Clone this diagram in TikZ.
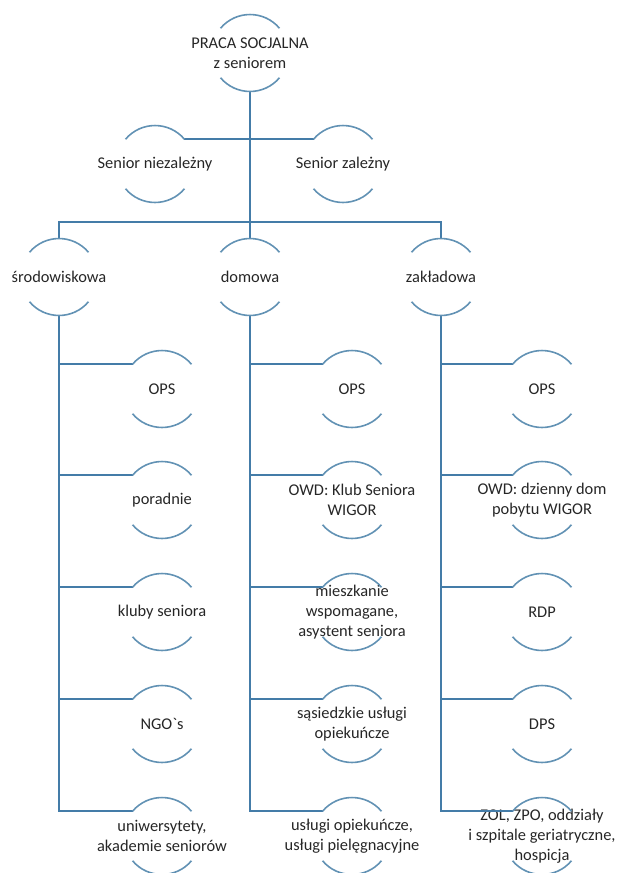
\documentclass[tikz,border=0pt]{standalone}
\usepackage{fontspec}
\setmainfont{Carlito}[Ligatures=TeXOff]

\definecolor{linkblue}{RGB}{68,124,168}
\definecolor{arcblue}{RGB}{98,146,180}
\definecolor{labelgray}{RGB}{38,38,38}

\tikzset{every picture/.style={line width=1.6pt}}
\tikzset{
  labeltext/.style={align=center, inner sep=0pt, text=labelgray, font=\fontsize{16.4}{20}\selectfont},
  arcshape/.style={circle, minimum size=77pt, inner sep=0pt, outer sep=0pt,
    label={[labeltext]center:{#1}}},
  link/.style={draw=linkblue, line width=1.6pt},
  arcline/.style={draw=arcblue, line width=1.6pt}
}
% upper and lower arc round a node (100 degrees each)
\newcommand{\arcsof}[1]{\draw[arcline] (#1.140) .. controls +(15.4,-18.3) and +(-15.4,-18.3) .. (#1.40)
  (#1.220) .. controls +(15.4,18.3) and +(-15.4,18.3) .. (#1.320);}

\begin{document}
\begin{tikzpicture}[x=1pt,y=1pt,yscale=-1,xscale=1]
\useasboundingbox (0,0) rectangle (621,873);

% Text Node
\node[arcshape={PRACA SOCJALNA\\z seniorem}] (praca) at (250,53) {};
% Text Node
\node[arcshape={Senior niezależny}] (niez) at (155,164) {};
% Text Node
\node[arcshape={Senior zależny}] (zal) at (343,164) {};
% Text Node
\node[arcshape={środowiskowa}] (srod) at (59,277) {};
% Text Node
\node[arcshape={domowa}] (dom) at (250,277) {};
% Text Node
\node[arcshape={zakładowa}] (zakl) at (441,277) {};

%środowiskowa column
\node[arcshape={OPS}] (opsS) at (162,389) {};
\node[arcshape={poradnie}] (poradnie) at (162,500) {};
\node[arcshape={kluby seniora}] (kluby) at (162,612) {};
\node[arcshape={NGO`s}] (ngo) at (162,724) {};
\node[arcshape={uniwersytety,\\akademie seniorów}] (uni) at (162,836) {};

%domowa column
\node[arcshape={OPS}] (opsD) at (352,389) {};
\node[arcshape={OWD: Klub Seniora\\WIGOR}] (owdD) at (352,500) {};
\node[arcshape={mieszkanie\\wspomagane,\\asystent seniora}] (mieszk) at (352,612) {};
\node[arcshape={sąsiedzkie usługi\\opiekuńcze}] (sasiedz) at (352,724) {};
\node[arcshape={usługi opiekuńcze,\\usługi pielęgnacyjne}] (uslugi) at (352,836) {};

%zakładowa column
\node[arcshape={OPS}] (opsZ) at (542,389) {};
\node[arcshape={OWD: dzienny dom\\pobytu WIGOR}] (owdZ) at (542,500) {};
\node[arcshape={RDP}] (rdp) at (542,612) {};
\node[arcshape={DPS}] (dps) at (542,724) {};
\node[arcshape={ZOL, ZPO, oddziały\\i szpitale geriatryczne,\\hospicja}] (zol) at (542,836) {};

%Straight Lines
\coordinate (bus) at (250,222);
\draw[link] (praca.south) -- (bus);
\draw[link] (niez.40) -- (zal.140);
\draw[link] (srod.north) |- (bus) -| (zakl.north);
\draw[link] (bus) -- (dom.north);
\foreach \c in {opsS,poradnie,kluby,ngo,uni} \draw[link] (srod.south) |- (\c.140);
\foreach \c in {opsD,owdD,mieszk,sasiedz,uslugi} \draw[link] (dom.south) |- (\c.140);
\foreach \c in {opsZ,owdZ,rdp,dps,zol} \draw[link] (zakl.south) |- (\c.140);

%Arcs
\foreach \n in {praca,niez,zal,srod,dom,zakl,opsS,poradnie,kluby,ngo,uni,
  opsD,owdD,mieszk,sasiedz,uslugi,opsZ,owdZ,rdp,dps,zol} {\arcsof{\n}}

\end{tikzpicture}
\end{document}
